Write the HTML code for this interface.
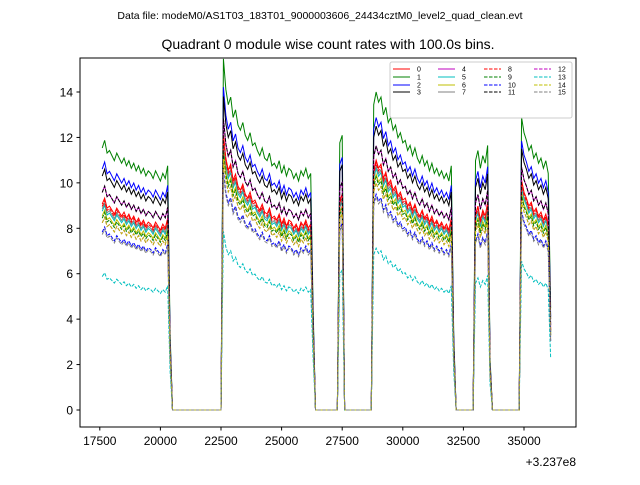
<!DOCTYPE html>
<html><head><meta charset="utf-8"><style>
body{margin:0;background:#fff;}
svg text{font-family:"Liberation Sans","DejaVu Sans",sans-serif;}
</style></head><body>
<svg id="chart" width="640" height="480" viewBox="0 0 640 480">
<text x="320" y="19" font-size="10.5" text-anchor="middle">Data file: modeM0/AS1T03_183T01_9000003606_24434cztM0_level2_quad_clean.evt</text>
<text x="328" y="49" font-size="14" text-anchor="middle">Quadrant 0 module wise count rates with 100.0s bins.</text>
<g id="plot"></g>
<rect x="80" y="58" width="496" height="369" fill="none" stroke="#000" stroke-width="1"/>
<g id="xt"></g>
<g id="yt"></g>
<text x="576" y="466" font-size="12" text-anchor="end">+3.237e8</text>
<g id="legend"></g>
</svg>
<script>
const times = [];
for (let t = 17600; t <= 36300; t += 100) times.push(t);
// reference profile (module 3 rate, counts/s) per 100 s bin
const profile = [
10.3,10.6,10.1,10.2,10.0,9.8,10.1,9.9,9.7,9.9,9.6,9.8,9.5,9.7,9.4,9.6,9.3,9.5,9.2,9.4,9.3,9.1,9.4,9.2,9.0,9.3,9.1,9.6,
3.0,
0,0,0,0,0,0,0,0,0,0,0,0,0,0,0,0,0,0,0,0,0,
13.8,12.6,12.0,12.3,11.5,11.8,11.2,11.0,11.3,10.8,10.6,10.9,10.4,10.5,10.2,10.0,10.3,9.9,9.8,10.1,9.6,9.7,9.5,9.8,9.3,9.6,9.2,9.5,9.4,9.1,9.3,9.0,9.4,9.2,9.5,9.1,9.3,
4.0,
0,0,0,0,0,0,0,0,0,0,
10.5,10.8,
0,0,0,0,0,0,0,0,0,0,0,0,
12.0,12.5,12.1,12.3,11.6,11.9,11.3,11.5,11.0,11.2,10.7,10.9,10.5,10.6,10.2,10.4,10.0,10.3,9.9,9.7,10.0,9.6,9.8,9.4,9.7,9.3,9.5,9.2,9.4,9.1,9.3,9.0,9.6,
3.0,
0,0,0,0,0,0,0,0,
9.8,10.2,9.5,10.0,9.7,10.4,
2.0,
0,0,0,0,0,0,0,0,0,0,0,0,
11.5,10.9,10.6,10.2,10.4,9.9,10.1,9.7,9.9,9.5,9.8,9.3,
4.0
];
const moduleNames = ["0","1","2","3","4","5","6","7","8","9","10","11","12","13","14","15"];
const moduleScale = [0.88,1.12,1.03,1.0,0.93,0.85,0.83,0.86,0.87,0.82,0.76,0.93,0.8,0.57,0.8,0.75];
const xTicks = [17500,20000,22500,25000,27500,30000,32500,35000];
const yTicks = [0,2,4,6,8,10,12,14];
const colors = ["#ff0000","#008000","#0000ff","#000000","#bf00bf","#00bfbf","#bfbf00","#808080"];

const NS = "http://www.w3.org/2000/svg";
const X = t => 221 + (t - 22500) * 0.02424;
const Y = v => 410 - v * 22.714;
function mk(tag, attrs, parent){const e=document.createElementNS(NS,tag);for(const k in attrs)e.setAttribute(k,attrs[k]);parent.appendChild(e);return e;}

const plot = document.getElementById('plot');
moduleNames.forEach((nm, i) => {
  const n = Math.min(times.length, profile.length);
  let d = "";
  for (let j = 0; j < n; j++) d += (j ? "L" : "M") + X(times[j]).toFixed(2) + "," + Y(profile[j] * moduleScale[i]).toFixed(2);
  const p = mk('path', {d: d, fill: "none", stroke: colors[i % 8], "stroke-width": 1, "stroke-dasharray": i >= 8 ? "3.5,1.5" : "none"}, plot);
  
  
});

const xt = document.getElementById('xt');
xTicks.forEach(t => {
  const x = X(t);
  const l = mk('line', {x1: x, x2: x, y1: 427, y2: 430.5, stroke: "#000"}, xt);
  
  
  const tx = mk('text', {x: x, y: 445, "font-size": 12, "text-anchor": "middle"}, xt);
  tx.textContent = t;
  
  
});
const yt = document.getElementById('yt');
yTicks.forEach(v => {
  const y = Y(v);
  const l = mk('line', {x1: 76.5, x2: 80, y1: y, y2: y, stroke: "#000"}, yt);
  
  
  const tx = mk('text', {x: 73, y: y + 4.5, "font-size": 12, "text-anchor": "end"}, yt);
  tx.textContent = v;
  
  
});

const lg = document.getElementById('legend');
const box = mk('rect', {x: 390, y: 62, width: 182, height: 56, rx: 2, fill: "#fff", "fill-opacity": 0.8, stroke: "#ccc"}, lg);


const colX = [393, 438, 484, 534];
const rowY = [69, 77, 85, 92];
moduleNames.forEach((nm, i) => {
  const c = Math.floor(i / 4), r = i % 4;
  const g = mk('g', {}, lg);
  
  
  mk('line', {x1: colX[c], x2: colX[c] + 17, y1: rowY[r], y2: rowY[r], stroke: colors[i % 8], "stroke-width": 1, "stroke-dasharray": i >= 8 ? "3.5,1.5" : "none"}, g);
  const t = mk('text', {x: colX[c] + 24, y: rowY[r] + 2.5, "font-size": 7}, g);
  t.textContent = nm;
});
</script>
</body></html>
